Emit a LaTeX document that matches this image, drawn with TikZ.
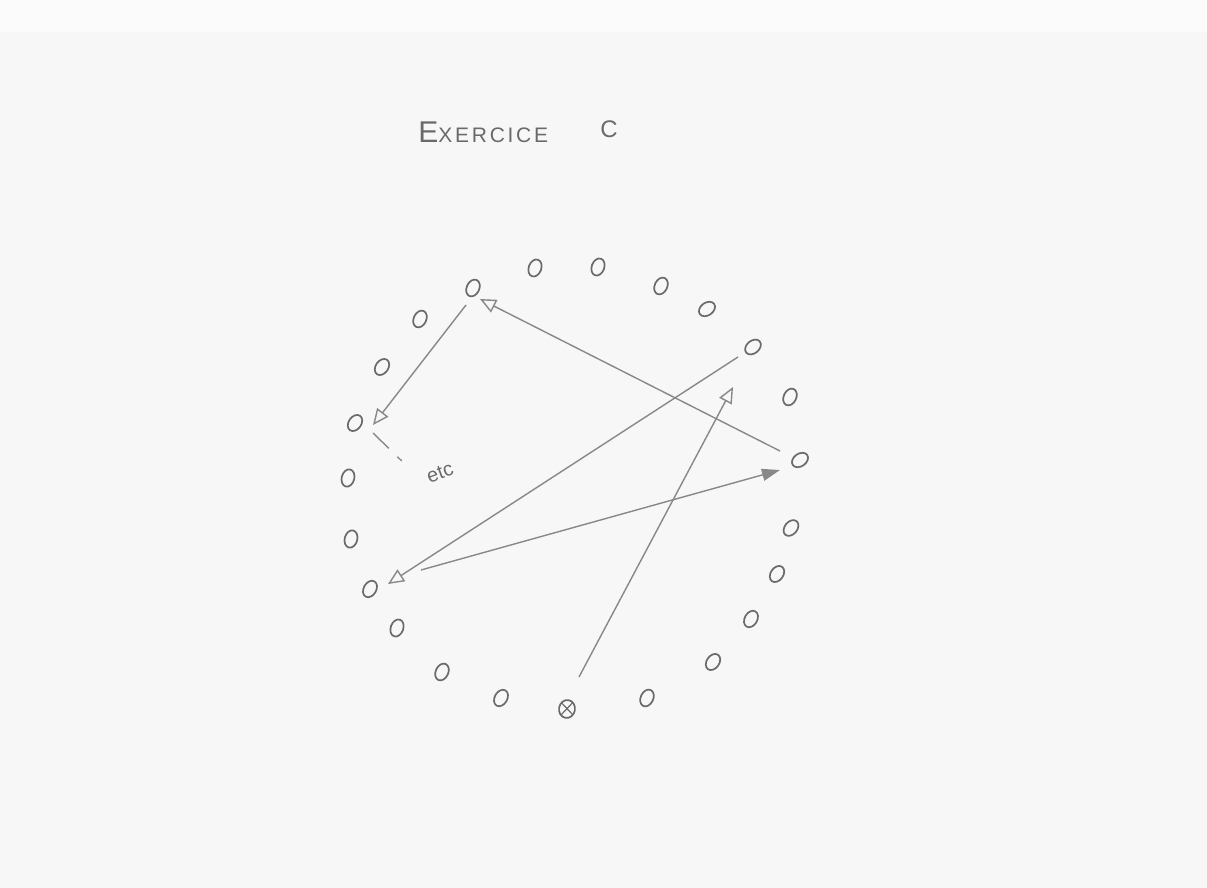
\documentclass[tikz,border=0pt]{standalone}
\usepackage{fontspec}
\setmainfont{Liberation Sans}
\newfontfamily\titlefont[LetterSpace=13]{Liberation Sans}
\usetikzlibrary{arrows.meta,shapes.geometric,calc}
\definecolor{paper}{HTML}{F7F7F7}
\definecolor{paperhi}{HTML}{FBFBFB}
\definecolor{pencil}{HTML}{6A6A6A}
\definecolor{pline}{HTML}{888888}
\begin{document}
\begin{tikzpicture}[x=0.5pt,y=-0.5pt,
  dot/.style={draw=pencil, line width=0.85pt, ellipse, inner sep=0pt,
              minimum width=6.3pt, minimum height=8.8pt},
  crossdot/.style={draw=pencil, line width=0.85pt, ellipse, inner sep=0pt,
     minimum width=8pt, minimum height=9pt,
     path picture={\draw[pencil, line width=0.6pt]
        (path picture bounding box.north west) -- (path picture bounding box.south east)
        (path picture bounding box.north east) -- (path picture bounding box.south west);}},
  link/.style={draw=pline, line width=0.7pt},
  openhead/.style={-{Triangle[open,length=8pt,width=7pt]}},
  fullhead/.style={-{Triangle[length=9pt,width=6pt]}},
  hand/.style={text=pencil, inner sep=0pt}]
\fill[paper] (0,0) rectangle (1207,888);
\fill[paperhi] (0,0) rectangle (1207,32);
\useasboundingbox (0,0) rectangle (1207,888);

% title
\node[hand, anchor=base west, font=\titlefont] (title) at (418,143)
  {{\fontsize{15}{15}\selectfont E}{\fontsize{10.5}{10.5}\selectfont XERCICE}};
\node[hand, anchor=base west, font=\fontsize{12}{12}\selectfont] (titleC) at (600,138) {C};

% ring of nodes
\node[dot, rotate=-25] (n1) at (473,288) {};
\node[dot, rotate=-20] (n2) at (535,268) {};
\node[dot, rotate=-20] (n3) at (598,267) {};
\node[dot, rotate=-25] (n4) at (661,286) {};
\node[dot, rotate=-55] (n5) at (707,309) {};
\node[dot, rotate=-50] (n6) at (753,347) {};
\node[dot, rotate=-25] (n7) at (790,397) {};
\node[dot, rotate=-55] (n8) at (800,460) {};
\node[dot, rotate=-40] (n9) at (791,528) {};
\node[dot, rotate=-35] (n10) at (777,574) {};
\node[dot, rotate=-30] (n11) at (751,619) {};
\node[dot, rotate=-35] (n12) at (713,662) {};
\node[dot, rotate=-25] (n13) at (647,698) {};
\node[crossdot, rotate=-10] (n14) at (567,709) {};
\node[dot, rotate=-30] (n15) at (501,698) {};
\node[dot, rotate=-25] (n16) at (442,672) {};
\node[dot, rotate=-20] (n17) at (397,628) {};
\node[dot, rotate=-30] (n18) at (370,589) {};
\node[dot, rotate=-15] (n19) at (351,539) {};
\node[dot, rotate=-15] (n20) at (348,478) {};
\node[dot, rotate=-35] (n21) at (355,423) {};
\node[dot, rotate=-35] (n22) at (382,367) {};
\node[dot, rotate=-25] (n23) at (420,319) {};

% connectors
\draw[link, openhead] ($(n8)+(-20,-9)$) -- ($(n1)+(7,11)$);
\draw[link, openhead] ($(n1)+(-7,17)$) -- ($(n21)+(18,2)$);
\draw[link, dash pattern=on 11pt off 6pt on 3pt off 20pt] ($(n21)+(18,10)$) -- ($(n21)+(54,45)$);
\draw[link, openhead] ($(n6)+(-15,10)$) -- ($(n18)+(18,-5)$);
\draw[link, fullhead] ($(n18)+(51,-19)$) -- ($(n8)+(-20,10)$);
\draw[link, openhead] ($(n14)+(12,-32)$) -- ($(n7)+(-57,-10)$);

\node[hand, rotate=20, font=\fontsize{10}{10}\selectfont] (etc) at (440,473) {etc};
\end{tikzpicture}
\end{document}
